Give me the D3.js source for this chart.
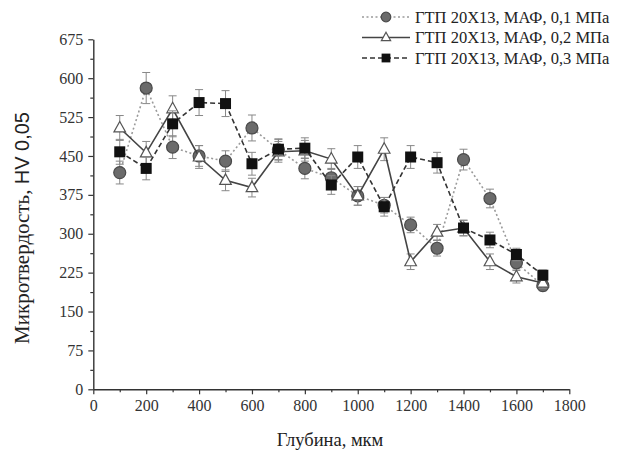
<!DOCTYPE html>
<html>
<head>
<meta charset="utf-8">
<script src="https://cdn.jsdelivr.net/npm/d3@7"></script>
<style>
  body { margin: 0; background: #fff; }
  text { font-family: "Liberation Serif", "Times New Roman", serif; }
</style>
</head>
<body>
<div class="chart"></div>
<script>
// data
const depth = [100, 200, 300, 400, 500, 600, 700, 800, 900, 1000, 1100, 1200, 1300, 1400, 1500, 1600, 1700];
const hv01 = [418, 581, 467, 450, 440, 504, 462, 426, 408, 373, 355, 317, 272, 443, 368, 244, 200];
const err01 = [22, 30, 22, 20, 20, 25, 20, 20, 18, 18, 15, 15, 15, 20, 18, 12, 10];
const hv02 = [504, 456, 541, 448, 403, 389, 458, 460, 444, 373, 463, 246, 303, 311, 246, 217, 205];
const err02 = [24, 22, 25, 22, 20, 18, 20, 20, 20, 18, 22, 15, 15, 15, 15, 12, 10];
const hv03 = [458, 426, 512, 553, 551, 435, 463, 465, 394, 448, 352, 448, 437, 311, 288, 260, 220];
const err03 = [24, 22, 25, 25, 25, 22, 20, 20, 18, 22, 18, 22, 20, 15, 15, 12, 10];
const seriesNames = ["ГТП 20Х13, МАФ, 0,1 МПа", "ГТП 20Х13, МАФ, 0,2 МПа", "ГТП 20Х13, МАФ, 0,3 МПа"];
const xTicks = [0, 200, 400, 600, 800, 1000, 1200, 1400, 1600, 1800];
const yTicks = [0, 75, 150, 225, 300, 375, 450, 525, 600, 675];

// setup chart
const width = 628;
const height = 459;
const svg = d3.select(".chart")
   .append("svg")
   .attr("width", width)
   .attr("height", height)
   .style("display", "block");

const xScale = d3.scaleLinear().domain([0, 1800]).range([93.3, 569.3]);
const yScale = d3.scaleLinear().domain([0, 675]).range([389.3, 39.3]);

// minor ticks
const xMinor = d3.range(100, 1800, 200);
const yMinor = d3.range(37.5, 675, 75);

svg.append("g")
   .attr("transform", `translate(0, ${yScale(0)})`)
   .call(d3.axisBottom(xScale).tickValues(xMinor).tickSize(3).tickFormat(""))
   .call((g) => g.select(".domain").remove());
svg.append("g")
   .attr("transform", `translate(${xScale(0)}, 0)`)
   .call(d3.axisLeft(yScale).tickValues(yMinor).tickSize(3).tickFormat(""))
   .call((g) => g.select(".domain").remove());

svg.append("g")
   .attr("transform", `translate(0, ${yScale(0)})`)
   .call(d3.axisBottom(xScale).tickValues(xTicks).tickFormat(d3.format("d")).tickSize(5).tickSizeOuter(0).tickPadding(5));
svg.append("g")
   .attr("transform", `translate(${xScale(0)}, 0)`)
   .call(d3.axisLeft(yScale).tickValues(yTicks).tickFormat(d3.format("d")).tickSize(5).tickSizeOuter(0).tickPadding(5));

svg.selectAll(".tick line").attr("stroke", "#333").attr("stroke-width", 1.2);
svg.selectAll(".domain").attr("stroke", "#333").attr("stroke-width", 1.4);
svg.selectAll(".tick text")
   .style("font-family", "'Liberation Serif', serif")
   .style("font-size", "16px")
   .attr("fill", "#333");

// axis titles
svg.append("text")
   .attr("x", 330)
   .attr("y", 446)
   .attr("text-anchor", "middle")
   .style("font-size", "18.5px")
   .attr("fill", "#222")
   .text("Глубина, мкм");

const yTitle = svg.append("text")
   .attr("transform", "translate(29, 228) rotate(-90)")
   .attr("text-anchor", "middle")
   .style("font-size", "21px")
   .attr("fill", "#222");
yTitle.append("tspan").text("Микротвердость, ");
yTitle.append("tspan").style("font-family", "'Liberation Sans', Arial, sans-serif").style("font-size", "20px").text("HV 0,05");

// series
const series = [
   { name: seriesNames[0], values: hv01, errors: err01, shape: "circle", fill: "#6b6b6b", stroke: "#4a4a4a", line: "#9a9a9a", dash: "2,2.5" },
   { name: seriesNames[1], values: hv02, errors: err02, shape: "triangle", fill: "#fff", stroke: "#555", line: "#444", dash: null },
   { name: seriesNames[2], values: hv03, errors: err03, shape: "square", fill: "#111", stroke: "#111", line: "#333", dash: "5,3" }
];

const line = d3.line().x((d) => xScale(d.x)).y((d) => yScale(d.y));

function drawMarker(g, shape, fill, stroke, k) {
   if (shape === "circle") {
      g.append("circle").attr("r", 6 * k).attr("fill", fill).attr("stroke", stroke).attr("stroke-width", 1.2);
   } else if (shape === "triangle") {
      g.append("path").attr("d", `M0,${-6.5 * k}L${5.8 * k},${4 * k}L${-5.8 * k},${4 * k}Z`)
         .attr("fill", fill).attr("stroke", stroke).attr("stroke-width", 1.2);
   } else {
      g.append("rect").attr("x", -5.5 * k).attr("y", -5.5 * k).attr("width", 11 * k).attr("height", 11 * k).attr("fill", fill);
   }
}

series.forEach((s) => {
   const pts = depth.map((x, i) => ({ x: x, y: s.values[i], e: s.errors[i] }));
   const g = svg.append("g");

   // error bars
   const eb = g.selectAll(".err").data(pts).enter().append("g").attr("stroke", "#888").attr("stroke-width", 1);
   eb.append("line")
      .attr("x1", (d) => xScale(d.x)).attr("x2", (d) => xScale(d.x))
      .attr("y1", (d) => yScale(d.y - d.e)).attr("y2", (d) => yScale(d.y + d.e));
   eb.append("line")
      .attr("x1", (d) => xScale(d.x) - 4).attr("x2", (d) => xScale(d.x) + 4)
      .attr("y1", (d) => yScale(d.y + d.e)).attr("y2", (d) => yScale(d.y + d.e));
   eb.append("line")
      .attr("x1", (d) => xScale(d.x) - 4).attr("x2", (d) => xScale(d.x) + 4)
      .attr("y1", (d) => yScale(d.y - d.e)).attr("y2", (d) => yScale(d.y - d.e));

   g.append("path")
      .datum(pts)
      .attr("d", line)
      .attr("fill", "none")
      .attr("stroke", s.line)
      .attr("stroke-width", 1.6)
      .attr("stroke-dasharray", s.dash);

   g.selectAll(".mk").data(pts).enter().append("g")
      .attr("transform", (d) => `translate(${xScale(d.x)}, ${yScale(d.y)})`)
      .each(function () { drawMarker(d3.select(this), s.shape, s.fill, s.stroke, 1); });
});

// legend
series.forEach((s, i) => {
   const y = 17 + i * 20.5;
   const lg = svg.append("g");
   lg.append("line")
      .attr("x1", 362).attr("x2", 410).attr("y1", y).attr("y2", y)
      .attr("stroke", s.line).attr("stroke-width", 1.6).attr("stroke-dasharray", s.dash);
   const m = lg.append("g").attr("transform", `translate(386, ${y})`);
   drawMarker(m, s.shape, s.fill, s.stroke, 0.8);
   lg.append("text")
      .attr("x", 415).attr("y", y + 5.5)
      .style("font-size", "16.5px")
      .attr("fill", "#222")
      .text(s.name);
});
</script>
</body>
</html>
